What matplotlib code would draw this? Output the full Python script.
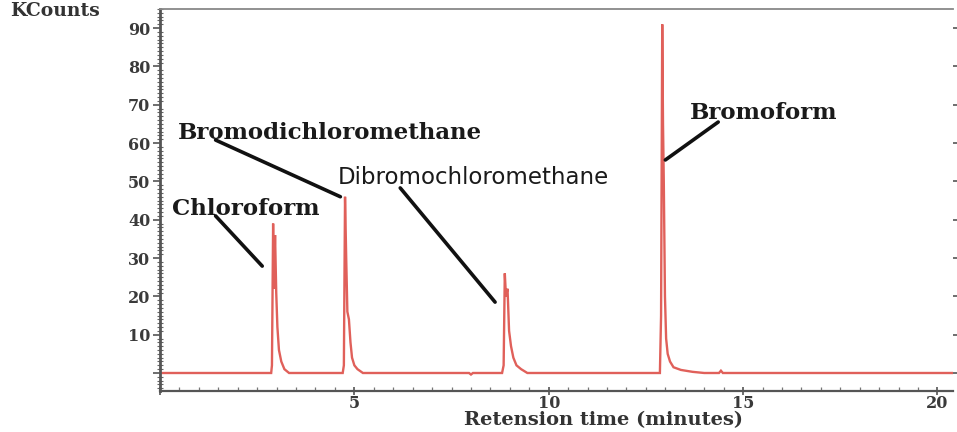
import matplotlib
matplotlib.use("Agg")
import matplotlib.pyplot as plt
from matplotlib.ticker import MultipleLocator

# ---- data (retention time in minutes, signal in KCounts)
time_min = [0.00, 2.86, 2.88, 2.91, 2.93, 2.96, 2.99, 3.02, 3.06, 3.12, 3.20, 3.32,
            4.70, 4.73, 4.76, 4.79, 4.82, 4.86, 4.90, 4.94, 5.00, 5.08, 5.22,
            7.95, 8.00, 8.05,
            8.80, 8.84, 8.87, 8.90, 8.94, 8.98, 9.03, 9.09, 9.17, 9.29, 9.45,
            12.86, 12.89, 12.92, 12.94, 12.96, 12.99, 13.02, 13.06, 13.12, 13.21, 13.40, 13.70, 14.00,
            14.38, 14.43, 14.48, 20.40]
kcounts = [0.0, 0.0, 2.0, 39.0, 22.0, 36.0, 21.0, 12.0, 6.0, 3.0, 1.0, 0.0,
           0.0, 2.0, 46.0, 30.0, 16.0, 14.0, 8.0, 4.0, 2.0, 1.0, 0.0,
           0.0, -0.4, 0.0,
           0.0, 2.0, 26.0, 20.0, 22.0, 11.0, 7.0, 4.0, 2.0, 1.0, 0.0,
           0.0, 15.0, 91.0, 65.0, 50.0, 20.0, 9.0, 5.0, 3.0, 1.5, 0.8, 0.3, 0.0,
           0.0, 0.6, 0.0, 0.0]

compounds = ["Chloroform", "Bromodichloromethane", "Dibromochloromethane", "Bromoform"]
peak_times = [2.91, 4.76, 8.87, 12.92]

y_ticks = [0, 10, 20, 30, 40, 50, 60, 70, 80, 90]
y_tick_labels = ["", "10", "20", "30", "40", "50", "60", "70", "80", "90"]
x_ticks = [0, 5, 10, 15, 20]
x_tick_labels = ["", "5", "10", "15", "20"]

# ---- layout / styles
label_pos = [(0.32, 42.8), (0.45, 62.7), (4.56, 50.9), (13.64, 67.9)]
label_sizes = [16.5, 16.5, 16.5, 16.5]
line_start = [(1.43, 41.0), (1.43, 60.8), (6.18, 48.3), (14.36, 65.5)]
line_end = [(2.63, 27.9), (4.64, 46.0), (8.62, 18.5), (13.0, 55.6)]
label_fonts = ["DejaVu Serif", "DejaVu Serif", "DejaVu Sans", "DejaVu Serif"]
label_weights = ["bold", "bold", "normal", "bold"]

fig = plt.figure(figsize=(9.57, 4.32), dpi=100)
ax = fig.add_axes([160 / 957, 1 - 391 / 432, (953 - 160) / 957, (391 - 9) / 432])

ax.plot(time_min, kcounts, color="#e0605a", lw=1.7, solid_joinstyle="miter")

ax.set_xlim(0, 20.4)
ax.set_ylim(-4.7, 95)

ax.set_yticks(y_ticks)
ax.set_yticklabels(y_tick_labels)
ax.set_xticks(x_ticks)
ax.set_xticklabels(x_tick_labels)
ax.yaxis.set_minor_locator(MultipleLocator(1))
ax.xaxis.set_minor_locator(MultipleLocator(0.5))

for lab in ax.get_yticklabels() + ax.get_xticklabels():
    lab.set_fontfamily("DejaVu Serif")
    lab.set_fontweight("bold")
    lab.set_fontsize(11.5)
    lab.set_color("#3a3a3a")

ax.tick_params(axis="y", which="major", direction="out", length=5, width=1.2,
               color="#555555", pad=2, right=True)
ax.tick_params(axis="y", which="minor", direction="inout", length=4, width=0.8,
               color="#666666", right=False)
ax.tick_params(axis="x", which="major", direction="inout", length=6, width=1.2,
               color="#555555", pad=0)
ax.tick_params(axis="x", which="minor", direction="in", length=3, width=0.9,
               color="#777777")

ax.spines["left"].set_color("#555555")
ax.spines["left"].set_linewidth(2.0)
ax.spines["bottom"].set_color("#555555")
ax.spines["bottom"].set_linewidth(1.6)
ax.spines["top"].set_color("#888888")
ax.spines["top"].set_linewidth(1.3)
ax.spines["right"].set_visible(False)

for name, (tx, ty), size, (sx, sy), (ex, ey), fam, wt in zip(
        compounds, label_pos, label_sizes, line_start, line_end, label_fonts, label_weights):
    ax.text(tx, ty, name, fontsize=size, family=fam, weight=wt,
            color="#1a1a1a", ha="left", va="center")
    ax.annotate("", xy=(ex, ey), xytext=(sx, sy),
                arrowprops=dict(arrowstyle="-", color="#111111", lw=2.6,
                                shrinkA=0, shrinkB=0))

fig.text(10 / 957, 1 - 11 / 432, "KCounts", family="DejaVu Serif", weight="bold",
         size=13.5, color="#333333", ha="left", va="center")
fig.text(603 / 957, 1 - 420 / 432, "Retension time (minutes)", family="DejaVu Serif",
         weight="bold", size=14, color="#333333", ha="center", va="center")

fig.savefig("out.png", dpi=100)
